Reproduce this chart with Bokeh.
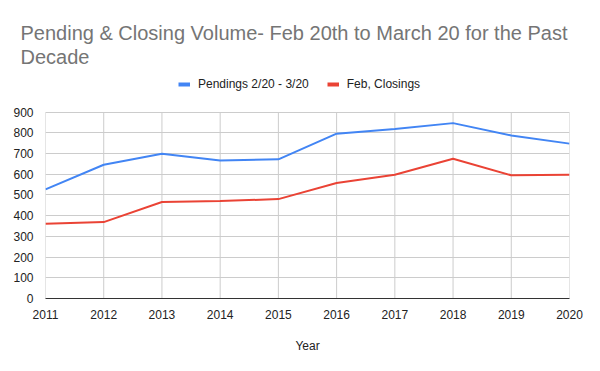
from bokeh.plotting import figure
from bokeh.models import (ColumnDataSource, Legend, LegendItem, FixedTicker, Range1d,
                          Title, LinearAxis)
from bokeh.embed import file_html
from bokeh.resources import INLINE

years = [2011, 2012, 2013, 2014, 2015, 2016, 2017, 2018, 2019, 2020]
pendings = [527, 646, 699, 667, 672, 796, 819, 847, 787, 748]
closings = [361, 369, 466, 471, 480, 558, 598, 675, 595, 598]
y_ticks = [0, 100, 200, 300, 400, 500, 600, 700, 800, 900]

title_lines = ["Pending & Closing Volume-  Feb 20th to March 20 for the Past", "Decade"]
series_names = ["Pendings 2/20 - 3/20", "Feb, Closings"]
x_title = "Year"

BLUE = "#4285F4"
RED = "#EA4335"
GRID = "#cccccc"
FONT = "Liberation Sans"

# layout (screen pixels)
W, H = 584, 355
FRAME_TOP, PLOT_TOP, PLOT_BOTTOM = 72, 112, 300
y_top = y_ticks[-1] * (PLOT_BOTTOM - FRAME_TOP) / (PLOT_BOTTOM - PLOT_TOP)

src = ColumnDataSource(dict(year=years, pend=pendings, close=closings))

p = figure(width=W, height=H, output_backend="svg", toolbar_location=None,
           x_range=Range1d(years[0], years[-1]), y_range=Range1d(0, y_top),
           min_border_left=45, min_border_right=15, min_border_top=FRAME_TOP,
           min_border_bottom=H - PLOT_BOTTOM)
p.title = None
p.outline_line_color = None
p.background_fill_color = "white"

# vertical grid lines, only over the value range
p.xgrid.visible = False
p.segment(x0=years, y0=[y_ticks[0]] * len(years), x1=years, y1=[y_ticks[-1]] * len(years),
          line_color=GRID, line_width=1)
p.ygrid.grid_line_color = GRID

r1 = p.line("year", "pend", source=src, line_color=BLUE, line_width=2)
r2 = p.line("year", "close", source=src, line_color=RED, line_width=2)

# legend swatches: renderers whose only point is NaN (draw nothing in the plot)
nan_src = ColumnDataSource(dict(x=[float("nan")], y=[float("nan")]))
s1 = p.line("x", "y", source=nan_src, line_color=BLUE, line_width=4)
s2 = p.line("x", "y", source=nan_src, line_color=RED, line_width=4)

p.xaxis.ticker = FixedTicker(ticks=years)
p.yaxis.ticker = FixedTicker(ticks=y_ticks)
for ax in (p.xaxis, p.yaxis):
    ax.major_tick_line_color = None
    ax.minor_tick_line_color = None
    ax.major_label_text_font = FONT
    ax.major_label_text_font_size = "12px"
    ax.major_label_text_color = "#222222"
p.xaxis.axis_line_color = "#333333"
p.xaxis.axis_line_width = 1
p.yaxis.axis_line_color = None
p.xaxis.major_label_standoff = 5
p.yaxis.major_label_standoff = 6
p.xaxis.axis_label = x_title
p.xaxis.axis_label_text_font = FONT
p.xaxis.axis_label_text_font_size = "12px"
p.xaxis.axis_label_text_font_style = "normal"
p.xaxis.axis_label_text_color = "#222222"
p.xaxis.axis_label_standoff = 17

legend = Legend(items=[LegendItem(label=series_names[0], renderers=[s1]),
                       LegendItem(label=series_names[1], renderers=[s2])],
                orientation="horizontal", location=(133, PLOT_BOTTOM - 93.5),
                glyph_width=12, glyph_height=16, label_height=16, label_standoff=8,
                spacing=18, padding=0, margin=0, border_line_color=None,
                background_fill_alpha=0, label_text_font=FONT,
                label_text_font_size="12px", label_text_color="#222222")
p.add_layout(legend, "center")

p.add_layout(Title(text="\n".join(title_lines), text_font=FONT, text_font_size="20px",
                   text_font_style="normal", text_color="#757575", align="left",
                   vertical_align="bottom", text_line_height=1.1,
                   offset=-25, standoff=8), "above")

# empty spacer above the title
spacer = LinearAxis(ticker=FixedTicker(ticks=[]), axis_line_color=None,
                    major_tick_line_color=None, minor_tick_line_color=None,
                    major_tick_in=0, major_tick_out=17, minor_tick_in=0, minor_tick_out=0,
                    major_label_standoff=0)
p.add_layout(spacer, "above")

open("out.html", "w").write(file_html(p, INLINE))
